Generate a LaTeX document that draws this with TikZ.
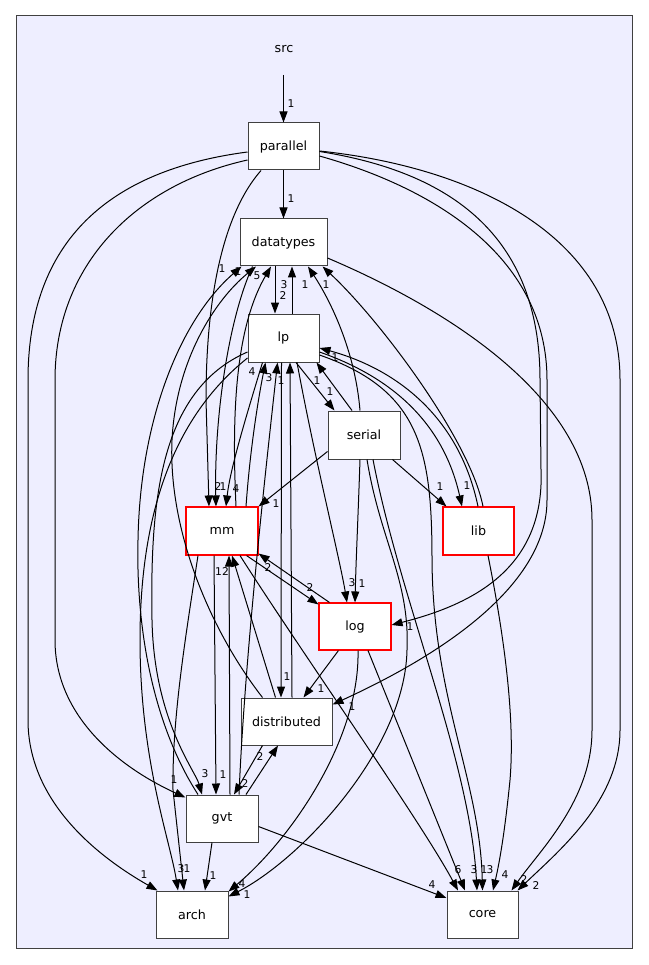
\documentclass[tikz,border=0pt]{standalone}
\usepackage{fontspec}
\setmainfont{DejaVu Sans}
\usetikzlibrary{arrows.meta}
\newcommand\nodefont{\fontsize{12.7}{15}\selectfont}
\newcommand\lblfont{\fontsize{10.7}{12}\selectfont}
\definecolor{clusterfill}{RGB}{238,238,255}
\definecolor{boxline}{RGB}{64,64,64}
\begin{document}
\begin{tikzpicture}[x=1pt,y=-1pt,
  dirbox/.style={draw=boxline, fill=white, line width=1pt, minimum width=71pt, minimum height=47pt, inner sep=0pt, font=\nodefont},
  redbox/.style={dirbox, draw=red, line width=1.1pt},
  dep/.style={draw=black, line width=1pt, -{Triangle[length=11pt,width=8pt]}},
  lbl/.style={font=\lblfont, inner sep=0pt}]
\useasboundingbox (0,0) rectangle (648,965);
\fill[white] (0,0) rectangle (648,965);
\draw[draw=boxline, fill=clusterfill, line width=1pt] (16,16) rectangle (632,948);
% nodes
\node[font=\nodefont] (src) at (284,49) {src};
\coordinate (srcpt) at (283.5,75);
\node[dirbox] (P) at (283.5,146.5) {parallel};
\node[dirbox, minimum width=87pt] (D) at (283.5,242.5) {datatypes};
\node[dirbox, minimum height=48pt] (L) at (283.5,338) {lp};
\node[dirbox, minimum width=72pt, minimum height=48pt] (S) at (364,435) {serial};
\node[redbox, minimum width=72pt, minimum height=48pt] (M) at (222,531) {mm};
\node[redbox, minimum height=48pt] (B) at (478.5,531) {lib};
\node[redbox, minimum width=72pt] (G) at (355,626.5) {log};
\node[dirbox, minimum width=91pt] (T) at (286.5,721.5) {distributed};
\node[dirbox, minimum width=72pt] (V) at (222,818.5) {gvt};
\node[dirbox, minimum width=72pt] (A) at (192,914.5) {arch};
\node[dirbox] (C) at (482.5,914.5) {core};
% edges
\draw[dep] (srcpt) -- (P);
\draw[dep] (P) -- (D);
\draw[dep] ([yshift=-5.5pt]P.west) .. controls (110,170) and (28,240) .. (28,380) -- (28,720) .. controls (28,800) and (95,855) .. ([xshift=2pt]A.north west);
\draw[dep] ([yshift=-13.5pt]P.west) .. controls (135,185) and (55,265) .. (55,380) -- (55,640) .. controls (55,720) and (125,770) .. ([yshift=-3pt]V.north west);
\draw[dep] ([xshift=-22.5pt]P.south) .. controls (222,215) and (206,300) .. (206,400) -- ([xshift=-13pt]M.north);
\draw[dep] ([yshift=-5pt]P.east) .. controls (450,172) and (540,235) .. (540,380) -- (541,470) .. controls (545,570) and (470,605) .. ([yshift=1.5pt]G.east);
\draw[dep] ([yshift=-9.5pt]P.east) .. controls (440,190) and (547,260) .. (547,380) -- (547,500) .. controls (547,590) and (430,660) .. ([yshift=-7pt]T.north east);
\draw[dep] ([yshift=-4.5pt]P.east) .. controls (480,168) and (620,240) .. (620,380) -- (620,730) .. controls (620,800) and (560,850) .. ([xshift=-1pt]C.north east);
\draw[dep] ([yshift=-15.5pt]D.east) .. controls (450,310) and (592,400) .. (592,520) -- (592,730) .. controls (592,800) and (540,850) .. ([xshift=-7pt]C.north east);
\draw[dep] ([xshift=-8.5pt]D.south) -- ([xshift=-8.5pt]L.north);
\draw[dep] ([xshift=8.5pt]L.north) -- ([xshift=8.5pt]D.south);
\draw[dep] ([xshift=-4pt]S.north) .. controls (355,350) and (330,300) .. ([xshift=24.5pt]D.south);
\draw[dep] ([xshift=4.5pt]B.north) .. controls (470,440) and (380,320) .. ([xshift=-5pt]D.south east);
\draw[dep] ([xshift=-0.5pt]B.north) .. controls (460,420) and (400,370) .. ([yshift=-10pt]L.east);
\draw[dep] ([yshift=-14pt]L.east) .. controls (400,380) and (445,430) .. ([xshift=-16.5pt]B.north);
\draw[dep] ([xshift=12.5pt]L.south) -- ([xshift=7pt]S.north west);
\draw[dep] ([xshift=-12pt]S.north) -- ([xshift=-3pt]L.south east);
\draw[dep] ([yshift=8pt]S.south west) -- (M.north east);
\draw[dep] ([xshift=-8pt]S.south east) -- ([xshift=4pt]B.north west);
\draw[dep] ([xshift=-4pt]S.south) .. controls (358,520) and (356,560) .. (G.north);
\draw[dep] ([xshift=13.5pt]L.south) .. controls (315,460) and (340,560) .. ([xshift=-8pt]G.north);
\draw[dep] ([xshift=-12pt]M.south east) -- ([yshift=-2pt]G.north west);
\draw[dep] ([xshift=11pt]G.north west) -- ([yshift=2pt]M.south east);
\draw[dep] ([xshift=20pt]G.south west) -- ([xshift=-29pt]T.north east);
\draw[dep] ([xshift=13pt]G.south) -- ([xshift=-17.5pt]C.north);
\draw[dep] ([xshift=3pt]G.south) .. controls (360,740) and (290,840) .. ([yshift=-1pt]A.north east);
\draw[dep] ([xshift=18pt]M.south) .. controls (300,650) and (420,820) .. ([xshift=-24.5pt]C.north);
\draw[dep] ([yshift=-8pt]V.east) -- ([yshift=16.5pt]C.west);
\draw[dep] ([xshift=9.5pt]B.south) .. controls (505,640) and (515,720) .. (510,780) .. controls (505,830) and (500,860) .. ([xshift=10.5pt]C.north);
\draw[dep] ([xshift=9pt]S.south) .. controls (400,600) and (470,760) .. ([xshift=-5.5pt]C.north);
\draw[dep] ([yshift=-17pt]L.east) .. controls (420,390) and (432,450) .. (432,560) .. controls (433,700) and (480,780) .. (C.north);
\draw[dep] ([xshift=3pt]S.south) .. controls (380,540) and (410,580) .. (407,650) .. controls (405,750) and (300,860) .. ([yshift=-6pt]A.north east);
\draw[dep] ([xshift=-10pt]V.south) -- ([xshift=13pt]A.north);
\draw[dep] ([xshift=-24pt]M.south) .. controls (185,640) and (172,720) .. (173,790) -- ([xshift=-8pt]A.north);
\draw[dep] ([yshift=-20pt]L.west) .. controls (170,420) and (140,520) .. (140,640) .. controls (140,760) and (170,840) .. ([xshift=-14pt]A.north);
\draw[dep] ([yshift=-14pt]L.west) .. controls (160,390) and (150,500) .. (152,620) .. controls (154,720) and (195,770) .. ([xshift=-20pt]V.north);
\draw[dep] ([xshift=-8pt]M.south) -- ([xshift=-6pt]V.north);
\draw[dep] ([xshift=8pt]V.north) -- ([xshift=7pt]M.south);
\draw[dep] ([xshift=-11pt]T.north) -- ([xshift=10pt]M.south);
\draw[dep] ([xshift=22pt]T.south west) -- ([xshift=12pt]V.north);
\draw[dep] ([xshift=24pt]V.north) -- ([xshift=-8.5pt]T.south);
\draw[dep] ([xshift=-2pt]L.south) -- ([xshift=-5.5pt]T.north);
\draw[dep] ([xshift=5.5pt]T.north) -- ([xshift=6.5pt]L.south);
\draw[dep] ([xshift=22pt]T.north west) .. controls (210,630) and (168,530) .. (172,440) .. controls (176,360) and (215,300) .. ([xshift=-27.5pt]D.south);
\draw[dep] ([xshift=-24pt]V.north) .. controls (150,720) and (136,620) .. (138,540) .. controls (140,420) and (180,320) .. ([xshift=2pt]D.south west);
\draw[dep] ([xshift=14pt]M.north) .. controls (232,420) and (234,330) .. ([xshift=-12.5pt]D.south);
\draw[dep] ([xshift=-31pt]D.south) .. controls (228,320) and (214,420) .. ([xshift=-6pt]M.north);
\draw[dep] ([xshift=-21pt]L.south) .. controls (245,420) and (230,470) .. ([xshift=4pt]M.north);
\draw[dep] ([xshift=24pt]M.north) .. controls (250,450) and (258,400) .. ([xshift=-18pt]L.south);
\draw[dep] ([xshift=17pt]V.north) .. controls (245,650) and (268,450) .. ([xshift=-6pt]L.south);
% labels
\node[lbl] (l1) at (291,104) {1};
\node[lbl] (l2) at (291,199) {1};
\node[lbl] (l3) at (222,269) {1};
\node[lbl] (l4) at (238,272) {1};
\node[lbl] (l5) at (257,276) {5};
\node[lbl] (l6) at (284,285) {3};
\node[lbl] (l7) at (283,296) {2};
\node[lbl] (l8) at (305,285) {1};
\node[lbl] (l9) at (326,285) {1};
\node[lbl] (l10) at (252,372) {4};
\node[lbl] (l11) at (269,378) {3};
\node[lbl] (l12) at (281,381) {1};
\node[lbl] (l13) at (317,381) {1};
\node[lbl] (l14) at (335,358) {1};
\node[lbl] (l15) at (330,392) {1};
\node[lbl] (l16) at (218,487) {2};
\node[lbl] (l17) at (223,487) {1};
\node[lbl] (l18) at (236,489) {4};
\node[lbl] (l19) at (276,504) {1};
\node[lbl] (l20) at (222,572) {12};
\node[lbl] (l21) at (268,568) {2};
\node[lbl] (l22) at (310,588) {2};
\node[lbl] (l23) at (352,583) {3};
\node[lbl] (l24) at (362,584) {1};
\node[lbl] (l25) at (410,627) {1};
\node[lbl] (l26) at (440,487) {1};
\node[lbl] (l27) at (467,486) {1};
\node[lbl] (l28) at (287,677) {1};
\node[lbl] (l29) at (321,689) {1};
\node[lbl] (l30) at (352,707) {1};
\node[lbl] (l31) at (260,757) {2};
\node[lbl] (l32) at (174,780) {1};
\node[lbl] (l33) at (205,774) {3};
\node[lbl] (l34) at (223,775) {1};
\node[lbl] (l35) at (245,784) {2};
\node[lbl] (l36) at (144,875) {1};
\node[lbl] (l37) at (181,869) {3};
\node[lbl] (l38) at (187,869) {1};
\node[lbl] (l39) at (213,876) {1};
\node[lbl] (l40) at (242,884) {4};
\node[lbl] (l41) at (247,895) {1};
\node[lbl] (l42) at (432,885) {4};
\node[lbl] (l43) at (458,870) {6};
\node[lbl] (l44) at (474,870) {3};
\node[lbl] (l45) at (484,870) {1};
\node[lbl] (l46) at (490,870) {3};
\node[lbl] (l47) at (505,875) {4};
\node[lbl] (l48) at (524,880) {2};
\node[lbl] (l49) at (536,886) {2};
\end{tikzpicture}
\end{document}
